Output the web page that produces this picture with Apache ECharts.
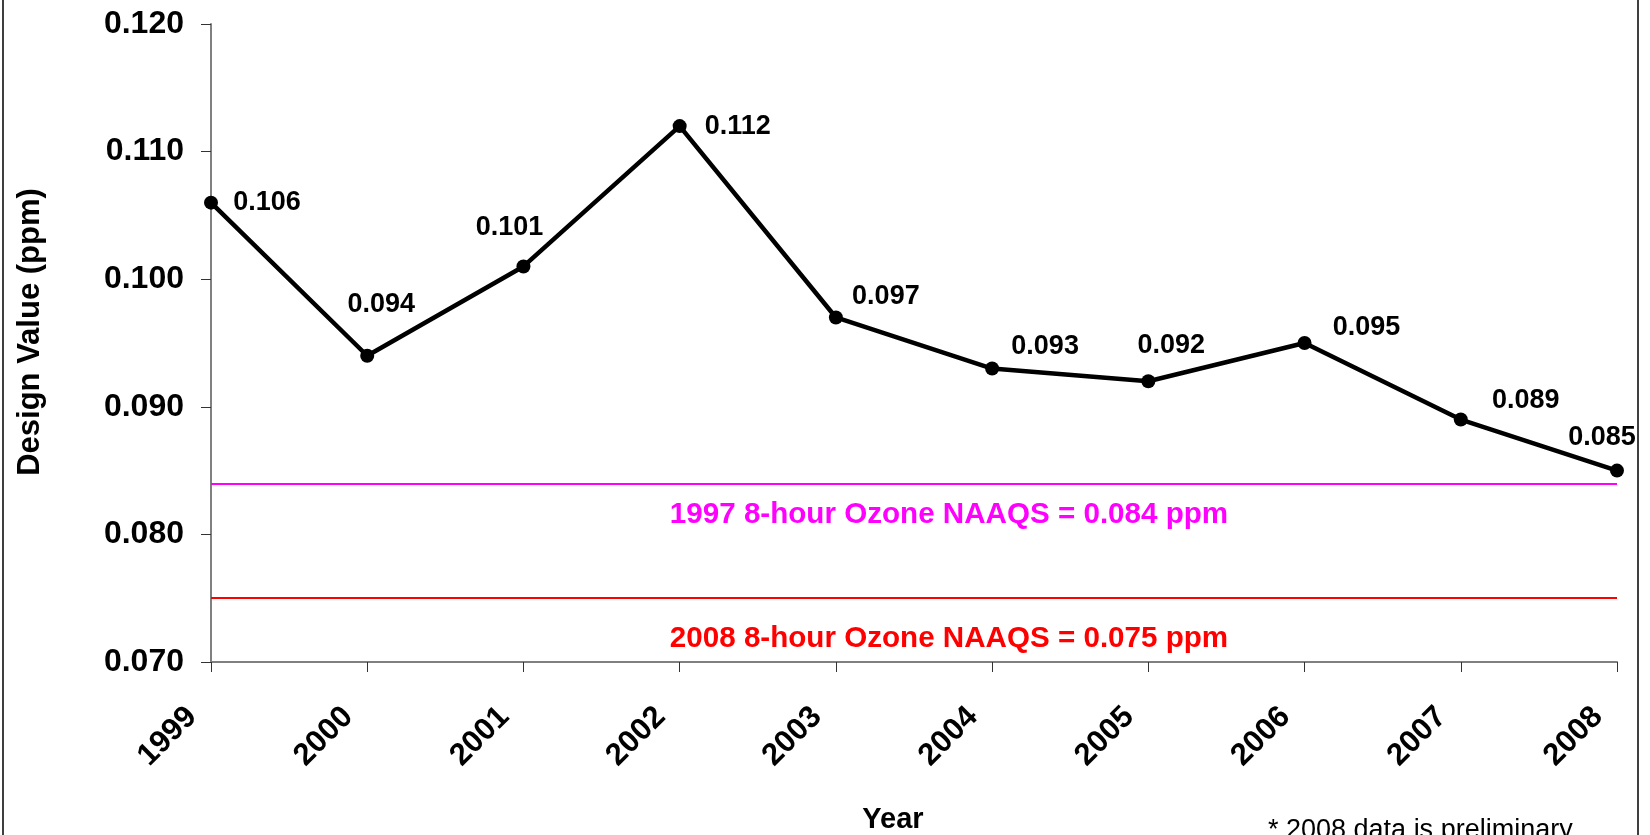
<!DOCTYPE html>
<html>
<head>
<meta charset="utf-8">
<title>Ozone design values</title>
<script src="https://cdn.jsdelivr.net/npm/echarts@6/dist/echarts.min.js"></script>
<style>
  html, body { margin: 0; padding: 0; background: #fff; }
  #chart { width: 1650px; height: 835px; }
</style>
</head>
<body>
<div id="chart"></div>
<script>
// values
const years = ['1999', '2000', '2001', '2002', '2003', '2004', '2005', '2006', '2007', '2008']
const designValues = [0.106, 0.094, 0.101, 0.112, 0.097, 0.093, 0.092, 0.095, 0.089, 0.085]
const yTicks = [0.07, 0.08, 0.09, 0.10, 0.11, 0.12]
const standard1997 = 0.084
const standard2008 = 0.075

const FONT = '"Liberation Sans", Arial, sans-serif'

// where Excel put each point label, relative to the point (px)
const labelOffsets = [
  [56, 0], [14, -51], [-14, -39], [58, 0], [50, -21],
  [53, -22], [23, -36], [62, -15], [65, -19], [-15, -33]
]

const chart = echarts.init(document.getElementById('chart'))

const option = {
  backgroundColor: '#fff',
  animation: false,
  grid: { left: 211, right: 33, top: 24, bottom: 173 },
  xAxis: {
    type: 'category',
    data: years,
    boundaryGap: false,
    axisLine: { lineStyle: { color: '#808080', width: 2 } },
    axisTick: { alignWithLabel: true, length: 10, lineStyle: { color: '#333', width: 1 } },
    axisLabel: {
      rotate: 45,
      margin: 31,
      padding: [0, 27, 0, 0],
      interval: 0,
      color: '#000',
      fontFamily: FONT,
      fontWeight: 'bold',
      fontSize: 31
    },
    splitLine: { show: false }
  },
  yAxis: {
    type: 'value',
    min: yTicks[0],
    max: yTicks[yTicks.length - 1],
    interval: 0.01,
    axisLine: { show: true, lineStyle: { color: '#808080', width: 2 } },
    axisTick: { show: true, length: 10, lineStyle: { color: '#333', width: 1 } },
    axisLabel: {
      margin: 27,
      color: '#000',
      fontFamily: FONT,
      fontWeight: 'bold',
      fontSize: 32,
      formatter: v => v.toFixed(3)
    },
    splitLine: { show: false }
  },
  series: [
    {
      type: 'line',
      data: designValues.map((v, i) => ({
        value: v,
        label: { offset: labelOffsets[i] }
      })),
      symbol: 'circle',
      symbolSize: 14,
      itemStyle: { color: '#000' },
      lineStyle: { color: '#000', width: 4.5 },
      label: {
        show: true,
        position: 'inside',
        color: '#000',
        fontFamily: FONT,
        fontWeight: 'bold',
        fontSize: 27,
        formatter: p => p.value.toFixed(3)
      },
      markLine: {
        silent: true,
        symbol: 'none',
        precision: 3,
        label: { show: false },
        data: [
          { yAxis: standard1997, lineStyle: { color: '#FF00FF', width: 2, type: 'solid' } },
          { yAxis: standard2008, lineStyle: { color: '#FF0000', width: 2, type: 'solid' } }
        ]
      },
      z: 5
    }
  ],
  graphic: [
    {
      type: 'rect',
      shape: { x: 3, y: -10, width: 1635, height: 860 },
      style: { fill: 'none', stroke: '#000', lineWidth: 1.5 },
      silent: true
    },
    {
      type: 'text',
      x: 30, y: 332, rotation: Math.PI / 2,
      style: {
        text: 'Design Value (ppm)', x: 0, y: 0,
        align: 'center', verticalAlign: 'middle',
        font: 'bold 31px ' + FONT, fill: '#000'
      }
    },
    {
      type: 'text',
      style: {
        text: 'Year', x: 893, y: 820,
        align: 'center', verticalAlign: 'middle',
        font: 'bold 29px ' + FONT, fill: '#000'
      }
    },
    {
      type: 'text',
      style: {
        text: '1997 8-hour Ozone NAAQS = ' + standard1997.toFixed(3) + ' ppm', x: 949, y: 515,
        align: 'center', verticalAlign: 'middle',
        font: 'bold 29.6px ' + FONT, fill: '#FF00FF'
      }
    },
    {
      type: 'text',
      style: {
        text: '2008 8-hour Ozone NAAQS = ' + standard2008.toFixed(3) + ' ppm', x: 949, y: 639,
        align: 'center', verticalAlign: 'middle',
        font: 'bold 29.6px ' + FONT, fill: '#FF0000'
      }
    },
    {
      type: 'text',
      style: {
        text: '* 2008 data is preliminary', x: 1268, y: 817,
        align: 'left', verticalAlign: 'top',
        font: '27px ' + FONT, fill: '#000'
      }
    }
  ]
}

chart.setOption(option)
window.addEventListener('resize', () => chart.resize())
</script>
</body>
</html>
